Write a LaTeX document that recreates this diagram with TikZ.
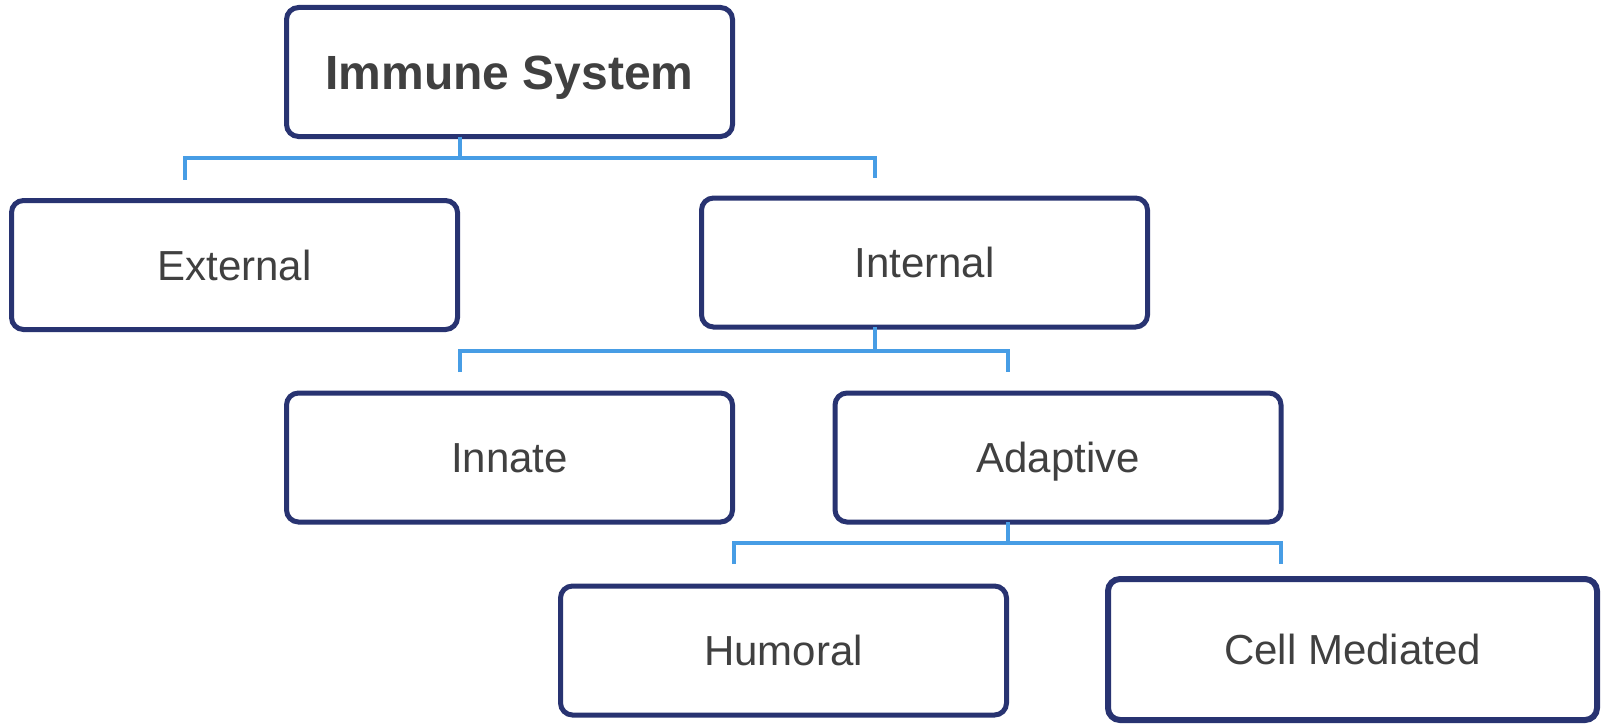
\documentclass[tikz,border=0pt]{standalone}
\usepackage{fontspec}
\setmainfont{Liberation Sans}
\usetikzlibrary{calc}
\definecolor{navy}{HTML}{283371}
\definecolor{linkblue}{HTML}{479DE5}
\definecolor{txt}{HTML}{404040}
\begin{document}
\begin{tikzpicture}[x=1pt,y=-1pt,
  box/.style={draw=navy, line width=5pt, rounded corners=12pt, fill=white,
    minimum width=446pt, minimum height=129pt, inner sep=0pt, outer sep=0pt,
    text=txt, font=\fontsize{42}{50}\selectfont, text height=30pt, text depth=0pt},
  titlebox/.style={box, font=\fontsize{48}{56}\selectfont\bfseries, text height=34.4pt},
  conn/.style={draw=linkblue, line width=4pt, line cap=butt, line join=miter}]
\useasboundingbox (0,0) rectangle (1602,725);
\fill[white] (0,0) rectangle (1602,725);
\node[titlebox] (top) at (509.5,72) {Immune System};
\node[box] (ext) at (234.5,265) {External};
\node[box] (int) at (924.5,262.5) {Internal};
\node[box] (inn) at (509.5,457.5) {Innate};
\node[box] (ada) at (1058,457.5) {Adaptive};
\node[box] (hum) at (783.5,650.5) {Humoral};
\node[box, line width=6pt, minimum width=489pt, minimum height=141pt] (cell) at (1352.5,649.5) {Cell Mediated};
% connector 1
\coordinate (t1) at ([xshift=-50pt]top.south);
\coordinate (bar1) at (0,158);
\coordinate (e1) at ([xshift=-50pt,yshift=21pt]ext.north);
\coordinate (i1) at ([xshift=-50pt,yshift=20pt]int.north);
\draw[conn] (t1) -- (t1 |- bar1);
\draw[conn] (e1) -- (e1 |- bar1) -- (i1 |- bar1) -- (i1);
% connector 2
\coordinate (t2) at ([xshift=-50pt]int.south);
\coordinate (bar2) at (0,351);
\coordinate (e2) at ([xshift=-50pt,yshift=21pt]inn.north);
\coordinate (i2) at ([xshift=-50pt,yshift=21pt]ada.north);
\draw[conn] (t2) -- (t2 |- bar2);
\draw[conn] (e2) -- (e2 |- bar2) -- (i2 |- bar2) -- (i2);
% connector 3
\coordinate (t3) at ([xshift=-50pt]ada.south);
\coordinate (bar3) at (0,543);
\coordinate (e3) at ([xshift=-50pt,yshift=22pt]hum.north);
\coordinate (i3) at ([xshift=-72pt,yshift=15pt]cell.north);
\draw[conn] (t3) -- (t3 |- bar3);
\draw[conn] (e3) -- (e3 |- bar3) -- (i3 |- bar3) -- (i3);
\end{tikzpicture}
\end{document}
